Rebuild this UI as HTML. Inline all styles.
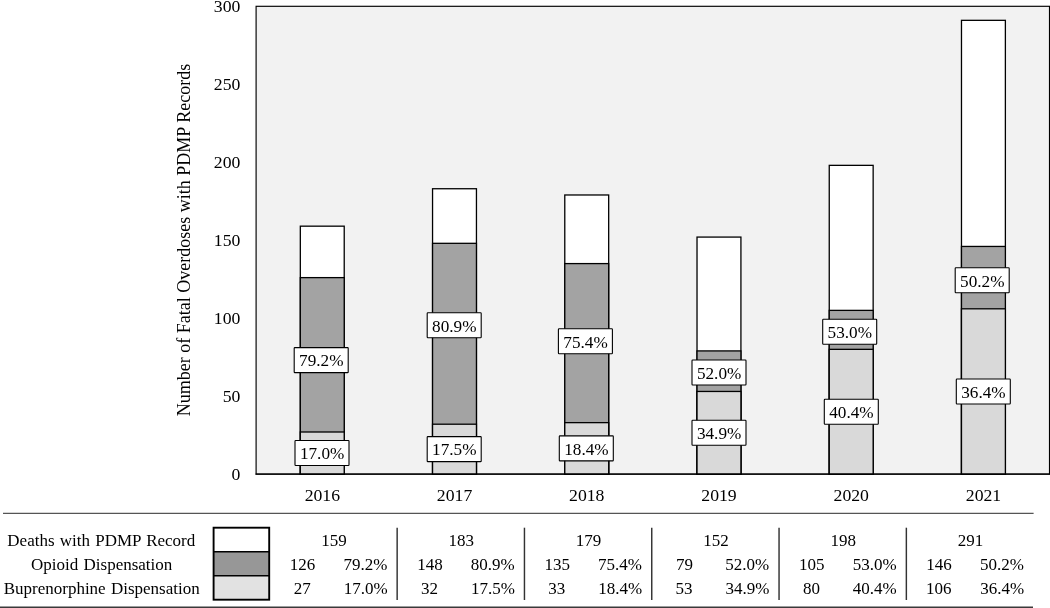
<!DOCTYPE html>
<html lang="en"><head><meta charset="utf-8"><title>Fatal Overdoses with PDMP Records</title>
<style>
html,body{margin:0;padding:0;background:#fff;}
body{width:1050px;height:608px;overflow:hidden;}
svg{display:block;}
svg text{font-family:"Liberation Serif",serif;font-size:18.0px;fill:#000;}
.m{text-anchor:middle;}.e{text-anchor:end;}
svg text.t{font-size:17.0px;word-spacing:1px;}
svg text.d{font-size:17.7px;}svg text.k{font-size:17.7px;}
</style></head><body>
<svg width="1050" height="608" viewBox="0 0 1050 608">
<rect x="0" y="0" width="1050" height="608" fill="#fff"/>
<rect x="256.10" y="6.30" width="793.40" height="467.80" fill="#f2f2f2" stroke="#000" stroke-width="1.15"/>
<rect x="300.32" y="226.17" width="43.90" height="247.93" fill="#ffffff" stroke="#000" stroke-width="1.3"/>
<rect x="300.32" y="277.62" width="43.90" height="196.48" fill="#a3a3a3" stroke="#000" stroke-width="1.3"/>
<rect x="300.32" y="432.00" width="43.90" height="42.10" fill="#d9d9d9" stroke="#000" stroke-width="1.3"/>
<rect x="432.55" y="188.74" width="43.90" height="285.36" fill="#ffffff" stroke="#000" stroke-width="1.3"/>
<rect x="432.55" y="243.32" width="43.90" height="230.78" fill="#a3a3a3" stroke="#000" stroke-width="1.3"/>
<rect x="432.55" y="424.20" width="43.90" height="49.90" fill="#d9d9d9" stroke="#000" stroke-width="1.3"/>
<rect x="564.78" y="194.98" width="43.90" height="279.12" fill="#ffffff" stroke="#000" stroke-width="1.3"/>
<rect x="564.78" y="263.59" width="43.90" height="210.51" fill="#a3a3a3" stroke="#000" stroke-width="1.3"/>
<rect x="564.78" y="422.64" width="43.90" height="51.46" fill="#d9d9d9" stroke="#000" stroke-width="1.3"/>
<rect x="697.02" y="237.08" width="43.90" height="237.02" fill="#ffffff" stroke="#000" stroke-width="1.3"/>
<rect x="697.02" y="350.91" width="43.90" height="123.19" fill="#a3a3a3" stroke="#000" stroke-width="1.3"/>
<rect x="697.02" y="391.46" width="43.90" height="82.64" fill="#d9d9d9" stroke="#000" stroke-width="1.3"/>
<rect x="829.25" y="165.35" width="43.90" height="308.75" fill="#ffffff" stroke="#000" stroke-width="1.3"/>
<rect x="829.25" y="310.37" width="43.90" height="163.73" fill="#a3a3a3" stroke="#000" stroke-width="1.3"/>
<rect x="829.25" y="349.35" width="43.90" height="124.75" fill="#d9d9d9" stroke="#000" stroke-width="1.3"/>
<rect x="961.48" y="20.33" width="43.90" height="453.77" fill="#ffffff" stroke="#000" stroke-width="1.3"/>
<rect x="961.48" y="246.44" width="43.90" height="227.66" fill="#a3a3a3" stroke="#000" stroke-width="1.3"/>
<rect x="961.48" y="308.81" width="43.90" height="165.29" fill="#d9d9d9" stroke="#000" stroke-width="1.3"/>
<line x1="255.55" y1="474.10" x2="1050.05" y2="474.10" stroke="#000" stroke-width="1.25"/>
<rect x="294.20" y="347.60" width="54.00" height="25.00" fill="#fff" stroke="#000" stroke-width="1.1" rx="0.7"/>
<text class="m d" transform="translate(321.30,366.40) scale(0.972,1)">79.2%</text>
<rect x="295.00" y="440.55" width="54.00" height="25.00" fill="#fff" stroke="#000" stroke-width="1.1" rx="0.7"/>
<text class="m d" transform="translate(322.10,459.35) scale(0.972,1)">17.0%</text>
<rect x="427.20" y="312.70" width="54.00" height="25.00" fill="#fff" stroke="#000" stroke-width="1.1" rx="0.7"/>
<text class="m d" transform="translate(454.30,331.50) scale(0.972,1)">80.9%</text>
<rect x="427.20" y="436.65" width="54.00" height="25.00" fill="#fff" stroke="#000" stroke-width="1.1" rx="0.7"/>
<text class="m d" transform="translate(454.30,455.45) scale(0.972,1)">17.5%</text>
<rect x="558.40" y="328.80" width="54.00" height="25.00" fill="#fff" stroke="#000" stroke-width="1.1" rx="0.7"/>
<text class="m d" transform="translate(585.50,347.60) scale(0.972,1)">75.4%</text>
<rect x="559.30" y="435.87" width="54.00" height="25.00" fill="#fff" stroke="#000" stroke-width="1.1" rx="0.7"/>
<text class="m d" transform="translate(586.40,454.67) scale(0.972,1)">18.4%</text>
<rect x="692.00" y="360.00" width="54.00" height="25.00" fill="#fff" stroke="#000" stroke-width="1.1" rx="0.7"/>
<text class="m d" transform="translate(719.10,378.80) scale(0.972,1)">52.0%</text>
<rect x="692.00" y="420.28" width="54.00" height="25.00" fill="#fff" stroke="#000" stroke-width="1.1" rx="0.7"/>
<text class="m d" transform="translate(719.10,439.08) scale(0.972,1)">34.9%</text>
<rect x="822.70" y="319.30" width="54.00" height="25.00" fill="#fff" stroke="#000" stroke-width="1.1" rx="0.7"/>
<text class="m d" transform="translate(849.80,338.10) scale(0.972,1)">53.0%</text>
<rect x="824.30" y="399.23" width="54.00" height="25.00" fill="#fff" stroke="#000" stroke-width="1.1" rx="0.7"/>
<text class="m d" transform="translate(851.40,418.03) scale(0.972,1)">40.4%</text>
<rect x="955.20" y="267.70" width="54.00" height="25.00" fill="#fff" stroke="#000" stroke-width="1.1" rx="0.7"/>
<text class="m d" transform="translate(982.30,286.50) scale(0.972,1)">50.2%</text>
<rect x="956.30" y="378.96" width="54.00" height="25.00" fill="#fff" stroke="#000" stroke-width="1.1" rx="0.7"/>
<text class="m d" transform="translate(983.40,397.76) scale(0.972,1)">36.4%</text>
<text class="e k" x="240.4" y="480.00">0</text>
<text class="e k" x="240.4" y="402.03">50</text>
<text class="e k" x="240.4" y="324.07">100</text>
<text class="e k" x="240.4" y="246.10">150</text>
<text class="e k" x="240.4" y="168.13">200</text>
<text class="e k" x="240.4" y="90.17">250</text>
<text class="e k" x="240.4" y="12.20">300</text>
<text class="m k" x="322.32" y="501.3">2016</text>
<text class="m k" x="454.55" y="501.3">2017</text>
<text class="m k" x="586.78" y="501.3">2018</text>
<text class="m k" x="719.02" y="501.3">2019</text>
<text class="m k" x="851.25" y="501.3">2020</text>
<text class="m k" x="983.48" y="501.3">2021</text>
<text class="m" transform="translate(189.6,240) rotate(-90)">Number of Fatal Overdoses with PDMP Records</text>
<line x1="3" y1="513.3" x2="1033.6" y2="513.3" stroke="#555" stroke-width="1.15"/>
<line x1="0" y1="607.3" x2="1033" y2="607.3" stroke="#3a3a3a" stroke-width="1.6"/>
<rect x="213.6" y="527.7" width="55.6" height="72" fill="#fff"/>
<rect x="213.6" y="551.8" width="55.6" height="24" fill="#979797"/>
<rect x="213.6" y="575.8" width="55.6" height="23.9" fill="#e2e2e2"/>
<rect x="213.6" y="527.7" width="55.6" height="72" fill="none" stroke="#000" stroke-width="1.9"/>
<line x1="213.6" y1="551.8" x2="269.2" y2="551.8" stroke="#000" stroke-width="1.6"/>
<line x1="213.6" y1="575.8" x2="269.2" y2="575.8" stroke="#000" stroke-width="1.6"/>
<text class="m t" x="101.3" y="546">Deaths with PDMP Record</text>
<text class="m t" x="101.7" y="570">Opioid Dispensation</text>
<text class="m t" x="101.7" y="594">Buprenorphine Dispensation</text>
<text class="m t" x="334.00" y="546">159</text>
<text class="m t" x="302.60" y="570">126</text>
<text class="m t" x="365.40" y="570">79.2%</text>
<text class="m t" x="302.20" y="594">27</text>
<text class="m t" x="365.60" y="594">17.0%</text>
<line x1="397.15" y1="527.7" x2="397.15" y2="600" stroke="#333" stroke-width="1.45"/>
<text class="m t" x="461.30" y="546">183</text>
<text class="m t" x="429.90" y="570">148</text>
<text class="m t" x="492.70" y="570">80.9%</text>
<text class="m t" x="429.50" y="594">32</text>
<text class="m t" x="492.90" y="594">17.5%</text>
<line x1="524.45" y1="527.7" x2="524.45" y2="600" stroke="#333" stroke-width="1.45"/>
<text class="m t" x="588.60" y="546">179</text>
<text class="m t" x="557.20" y="570">135</text>
<text class="m t" x="620.00" y="570">75.4%</text>
<text class="m t" x="556.80" y="594">33</text>
<text class="m t" x="620.20" y="594">18.4%</text>
<line x1="651.75" y1="527.7" x2="651.75" y2="600" stroke="#333" stroke-width="1.45"/>
<text class="m t" x="715.90" y="546">152</text>
<text class="m t" x="684.50" y="570">79</text>
<text class="m t" x="747.30" y="570">52.0%</text>
<text class="m t" x="684.10" y="594">53</text>
<text class="m t" x="747.50" y="594">34.9%</text>
<line x1="779.05" y1="527.7" x2="779.05" y2="600" stroke="#333" stroke-width="1.45"/>
<text class="m t" x="843.20" y="546">198</text>
<text class="m t" x="811.80" y="570">105</text>
<text class="m t" x="874.60" y="570">53.0%</text>
<text class="m t" x="811.40" y="594">80</text>
<text class="m t" x="874.80" y="594">40.4%</text>
<line x1="906.35" y1="527.7" x2="906.35" y2="600" stroke="#333" stroke-width="1.45"/>
<text class="m t" x="970.50" y="546">291</text>
<text class="m t" x="939.10" y="570">146</text>
<text class="m t" x="1001.90" y="570">50.2%</text>
<text class="m t" x="938.70" y="594">106</text>
<text class="m t" x="1002.10" y="594">36.4%</text>
</svg>
</body></html>
